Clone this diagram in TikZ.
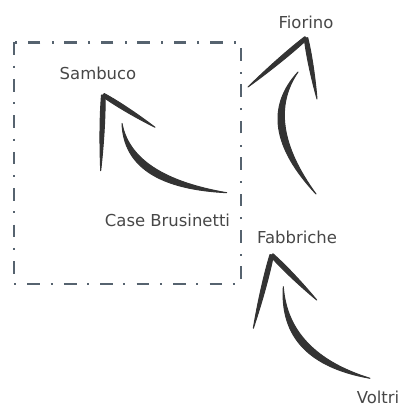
\documentclass[tikz,border=0pt]{standalone}
\usepackage{fontspec}
\setmainfont{DejaVu Sans}
\usepackage{tikz}
\usetikzlibrary{calc,positioning}
\definecolor{inkgray}{HTML}{333333}
\definecolor{txtgray}{HTML}{474747}
\definecolor{slate}{HTML}{56636F}
\tikzset{
  place/.style={anchor=base,inner sep=0pt,text=txtgray,font=\fontsize{11.7}{14}\selectfont},
  frame/.style={draw=slate,line width=1.6pt,dash pattern=on 9pt off 7.5pt on 1.4pt off 8pt},
  ink/.style={fill=inkgray,draw=inkgray,line width=0.7pt,line join=round}
}
% tapered shaft: start, bend, end, half width
\newcommand\brush[4]{%
  \path[ink] (#1) .. controls ($(#1)!.667!(#2)+(#4)$) and ($(#3)!.667!(#2)+(#4)$) .. (#3)
    .. controls ($(#3)!.667!(#2)-(#4)$) and ($(#1)!.667!(#2)-(#4)$) .. (#1) -- cycle;}
% tapered barb: tip, end, half width
\newcommand\barb[3]{%
  \path[ink] ($(#1)+0.6*(#3)$) .. controls ($(#1)!.3!(#2)+(#3)$) and ($(#1)!.7!(#2)+0.6*(#3)$) .. (#2)
    .. controls ($(#1)!.7!(#2)-0.6*(#3)$) and ($(#1)!.3!(#2)-(#3)$) .. ($(#1)-0.6*(#3)$) -- cycle;}

\begin{document}
\begin{tikzpicture}[x=0.025cm,y=-0.025cm]
  \useasboundingbox (0,0) rectangle (402,406);
  \draw[frame] (14,42.5) rectangle (241,284);
  % places
  \node[place] (fio) at (306,28.3) {Fiorino};
  \node[place] (sam) at (98,80) {Sambuco};
  \node[place] (cas) at (167.5,226.7) {Case Brusinetti};
  \node[place] (fab) at (297,243.3) {Fabbriche};
  \node[place] (vol) at (378,403.3) {Voltri};
  % Case Brusinetti to Sambuco
  \coordinate (cs0) at (226.7,192.7);
  \coordinate (cs1) at (128,182);
  \coordinate (cs2) at (122,123.3);
  \coordinate (csT) at (103.3,95);
  \coordinate (csL) at (100.7,170.7);
  \coordinate (csR) at (155,127.3);
  \brush{cs0}{cs1}{cs2}{2.5,-3.8}
  \barb{csT}{csL}{3,0}
  \barb{csT}{csR}{1.5,-2.5}
  % Fabbriche to Fiorino
  \coordinate (ff0) at (316,194);
  \coordinate (ff1) at (257,123);
  \coordinate (ff2) at (298,72);
  \coordinate (ffT) at (306,38);
  \coordinate (ffL) at (248,87);
  \coordinate (ffR) at (317,99);
  \brush{ff0}{ff1}{ff2}{4.4,-0.6}
  \barb{ffT}{ffL}{1.9,2.2}
  \barb{ffT}{ffR}{2.9,-0.5}
  % Voltri to Fabbriche
  \coordinate (vf0) at (370,378.3);
  \coordinate (vf1) at (283.3,357.5);
  \coordinate (vf2) at (283.3,286.7);
  \coordinate (vfT) at (271.7,255);
  \coordinate (vfL) at (253.3,328.3);
  \coordinate (vfR) at (316.7,300);
  \brush{vf0}{vf1}{vf2}{3.2,-3.1}
  \barb{vfT}{vfL}{2.9,0.7}
  \barb{vfT}{vfR}{2.1,-2.1}
\end{tikzpicture}
\end{document}
